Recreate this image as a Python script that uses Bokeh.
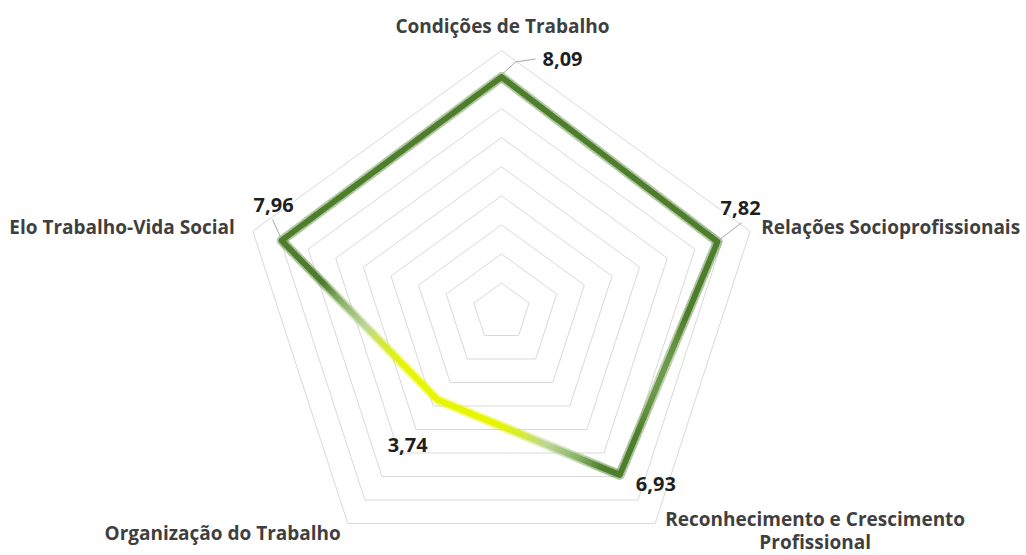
import math
from bokeh.plotting import figure
from bokeh.models import Range1d, ColumnDataSource
from bokeh.core.properties import value
from bokeh.embed import file_html
from bokeh.resources import INLINE

# ---------------- data ----------------
categories = ["Condições de Trabalho", "Relações Socioprofissionais",
              "Reconhecimento e Crescimento\nProfissional",
              "Organização do Trabalho", "Elo Trabalho-Vida Social"]
values = [8.09, 7.82, 6.93, 3.74, 7.96]
value_labels = ["8,09", "7,82", "6,93", "3,74", "7,96"]
grid_levels = [1, 2, 3, 4, 5, 6, 7, 8, 9]

# ---------------- layout / style ----------------
W, H = 1026, 555
S = 29.05              # pixels per value unit
CX, CY = 501.0, 311.5  # centre in canvas pixels
FONT = value("Open Sans")

# category label: (align, dx, dy) pixel offsets from outer-ring vertex
cat_style = [("center", 1, -25), ("left", 11, -4), ("center", 160, -5),
             ("right", -7, 9), ("right", -18, -4)]
line2_dy = 23
# value label pixel offsets from data point
val_off = [(41, -17.5), (3, -34), (16, 9.5), (-50, 45.5), (-28, -36)]
# leader lines pixel paths from data point
leaders = {0: [(1, -3), (14, -15), (34, -18)],
           1: [(3, -3), (24, -19)],
           4: [(-1, -3), (-9, -21)]}

ramp = [(3.8, (230, 246, 0)), (4.15, (216, 238, 40)), (4.75, (190, 214, 150)),
        (5.6, (136, 178, 102)), (6.3, (78, 126, 44))]


def ramp_color(r):
    if r <= ramp[0][0]:
        c = ramp[0][1]
    elif r >= ramp[-1][0]:
        c = ramp[-1][1]
    else:
        for (r0, c0), (r1, c1) in zip(ramp[:-1], ramp[1:]):
            if r0 <= r <= r1:
                t = (r - r0) / (r1 - r0)
                c = tuple(int(round(a + (b - a) * t)) for a, b in zip(c0, c1))
                break
    return "#%02x%02x%02x" % c


n = len(categories)
angles = [math.radians(90 - 72 * i) for i in range(n)]

p = figure(width=W, height=H, output_backend="svg", toolbar_location=None,
           x_range=Range1d(-CX / S, (W - CX) / S),
           y_range=Range1d(-(H - CY) / S, CY / S),
           x_axis_type=None, y_axis_type=None,
           min_border=0, min_border_left=0, min_border_right=0,
           min_border_top=0, min_border_bottom=0)
p.outline_line_color = None
p.grid.visible = False
p.background_fill_color = "white"
p.border_fill_color = "white"

# grid pentagons
gx, gy = [], []
for lv in grid_levels:
    xs = [lv * math.cos(a) for a in angles] + [lv * math.cos(angles[0])]
    ys = [lv * math.sin(a) for a in angles] + [lv * math.sin(angles[0])]
    gx.append(xs)
    gy.append(ys)
p.multi_line(gx, gy, line_color="#d9d9d9", line_width=1)

# data polygon, drawn as short segments with a radial colour ramp
px = [v * math.cos(a) for v, a in zip(values, angles)]
py = [v * math.sin(a) for v, a in zip(values, angles)]
x0, y0, x1, y1, cols = [], [], [], [], []
N = 60
for i in range(n):
    ax, ay = px[i], py[i]
    bx, by = px[(i + 1) % n], py[(i + 1) % n]
    for k in range(N):
        t0, t1 = k / N, (k + 1) / N
        sx, sy = ax + (bx - ax) * t0, ay + (by - ay) * t0
        ex, ey = ax + (bx - ax) * t1, ay + (by - ay) * t1
        mx, my = (sx + ex) / 2, (sy + ey) / 2
        x0.append(sx); y0.append(sy); x1.append(ex); y1.append(ey)
        cols.append(ramp_color(math.hypot(mx, my)))
seg = ColumnDataSource(dict(x0=x0, y0=y0, x1=x1, y1=y1, c=cols))
p.segment("x0", "y0", "x1", "y1", source=seg, line_color="c",
          line_width=10, line_alpha=0.22, line_cap="round")
p.segment("x0", "y0", "x1", "y1", source=seg, line_color="c",
          line_width=5.5, line_cap="round")

# leader lines
for i, path in leaders.items():
    lx = [px[i] + dx / S for dx, dy in path]
    ly = [py[i] - dy / S for dx, dy in path]
    p.line(lx, ly, line_color="#a6a6a6", line_width=1)

# value labels
p.text(x=px, y=py, text=value_labels,
       x_offset=[o[0] for o in val_off], y_offset=[o[1] for o in val_off],
       text_align="left", text_baseline="alphabetic",
       text_font=FONT, text_font_style="bold", text_font_size="20px",
       text_color="#1f1f1f")

# category labels
top = grid_levels[-1]
cx_, cy_, ct, ca, cdx, cdy = [], [], [], [], [], []
for i, cat in enumerate(categories):
    al, dx, dy = cat_style[i]
    for j, line in enumerate(cat.split("\n")):
        cx_.append(top * math.cos(angles[i]))
        cy_.append(top * math.sin(angles[i]))
        ct.append(line)
        ca.append(al)
        cdx.append(dx)
        cdy.append(dy + j * line2_dy)
p.text(x=cx_, y=cy_, text=ct, x_offset=cdx, y_offset=cdy, text_align=ca,
       text_baseline="alphabetic", text_font=FONT, text_font_style="bold",
       text_font_size="19px", text_color="#3f3f3f")

open("out.html", "w").write(file_html(p, INLINE))
